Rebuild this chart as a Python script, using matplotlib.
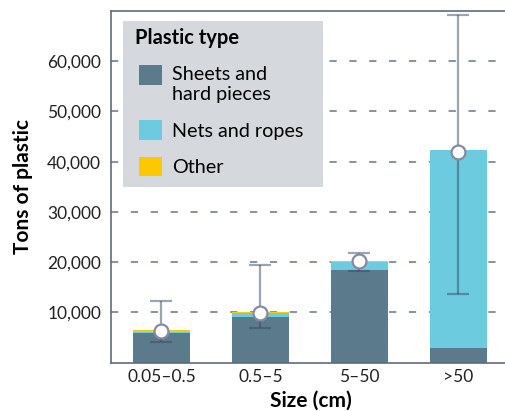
import numpy as np
import matplotlib

matplotlib.use("Agg")
import matplotlib.pyplot as plt
from matplotlib.patches import Patch, Rectangle
from matplotlib.legend_handler import HandlerPatch


sizes = ["0.05\u20130.5", "0.5\u20135", "5\u201350", ">50"]
sheets = [5950, 9150, 18450, 2950]
nets = [30, 700, 1650, 39350]
other = [450, 150, 200, 0]
means = [6200, 9950, 20200, 41900]
err_low = [4100, 6800, 18300, 13600]
err_high = [12200, 19400, 21800, 69300]
yticks = [10000, 20000, 30000, 40000, 50000, 60000]

c_sheets = "#5b7b8d"
c_nets = "#6ccbde"
c_other = "#fcc900"
c_axis = "#5d6b7f"
c_err = "#3a4a66"
c_legbg = "#d5d9de"

plt.rcParams["font.family"] = ["Lato", "DejaVu Sans"]


class TopPatch(HandlerPatch):
    # square swatch pinned to the first text line of a two-line label
    def __init__(self, shift, **kw):
        super().__init__(**kw)
        self.shift = shift

    def create_artists(self, legend, orig_handle, xdescent, ydescent,
                       width, height, fontsize, trans):
        p = Rectangle((-xdescent, -ydescent + self.shift), width, height,
                      facecolor=orig_handle.get_facecolor(), edgecolor="none",
                      transform=trans)
        return [p]


fig = plt.figure(figsize=(5.05, 4.11), dpi=100)
ax = fig.add_axes([0.2198, 0.118, 0.79, 0.855])

x = np.arange(len(sizes))
w = 0.58
sheets = np.array(sheets)
nets = np.array(nets)
other = np.array(other)

ax.bar(x, sheets, w, color=c_sheets, zorder=2)
ax.bar(x, nets, w, bottom=sheets, color=c_nets, zorder=2)
ax.bar(x, other, w, bottom=sheets + nets, color=c_other, zorder=2)

means = np.array(means)
yerr = [means - np.array(err_low), np.array(err_high) - means]
ax.errorbar(x, means, yerr=yerr, fmt="none", ecolor=c_err, alpha=0.5,
            elinewidth=1.6, capsize=8, capthick=1.6, zorder=3)
ax.plot(x, means, "o", ms=10, mfc="white", mec="#858aa0", mew=1.6, zorder=4)

ax.set_xlim(-0.51, 3.52)
ax.set_ylim(0, 70000)
ax.set_xticks(x)
ax.set_xticklabels(sizes)
ax.set_yticks(yticks)
ax.set_yticklabels([f"{v:,}" for v in yticks])
ax.tick_params(length=0, labelsize=12.5, colors="#222222")
ax.tick_params(axis="y", pad=7)
ax.tick_params(axis="x", pad=5)

ax.yaxis.grid(True, color="#7d8a9c", linestyle=(0, (4, 7)), linewidth=1.3, zorder=1)
ax.set_axisbelow(True)

for side in ["left", "bottom", "top"]:
    ax.spines[side].set_color(c_axis)
    ax.spines[side].set_linewidth(1.2)
ax.spines["right"].set_visible(False)

ax.set_ylabel("Tons of plastic", fontsize=15, fontweight="bold", labelpad=10)
ax.set_xlabel("Size (cm)", fontsize=15, fontweight="bold", labelpad=4)

# grey panel behind the legend
ax.add_patch(Rectangle((0.031, 0.499), 0.501, 0.473, transform=ax.transAxes,
                       facecolor=c_legbg, edgecolor="none", zorder=5))

h_sheets = Patch(facecolor=c_sheets, label="Sheets and\nhard pieces")
handles = [
    h_sheets,
    Patch(facecolor=c_nets, label="Nets and ropes"),
    Patch(facecolor=c_other, label="Other"),
]
leg = ax.legend(
    handles=handles,
    handler_map={h_sheets: TopPatch(shift=7)},
    title="Plastic type",
    loc="upper left",
    bbox_to_anchor=(0.060, 0.951),
    borderaxespad=0,
    borderpad=0,
    frameon=False,
    fontsize=14.2,
    title_fontproperties={"weight": "bold", "size": 14.5},
    alignment="left",
    handlelength=1.17,
    handleheight=1.17,
    handletextpad=0.5,
    labelspacing=0.85,
)
leg._legend_box.sep = 10
leg._legend_handle_box.pad = 3
leg.set_zorder(6)

fig.savefig("out.png", dpi=100)
